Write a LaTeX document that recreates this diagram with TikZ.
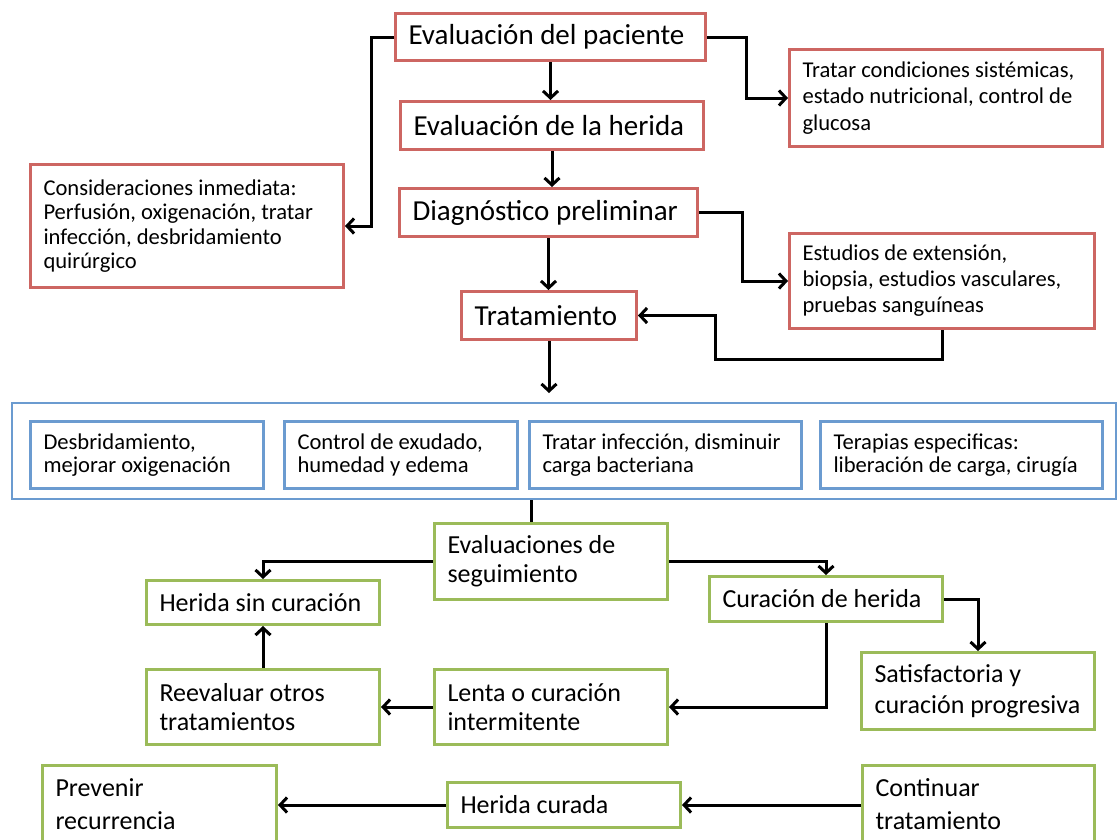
\documentclass[tikz,border=0pt]{standalone}
\usepackage{fontspec}
\setmainfont{Carlito}
\usetikzlibrary{arrows.meta}
\definecolor{rd}{RGB}{205,102,98}
\definecolor{bl}{RGB}{107,155,208}
\definecolor{gr}{RGB}{155,187,89}
\tikzset{
 box/.style={draw, line width=3pt, fill=white, anchor=north west, inner xsep=13pt, inner ysep=0pt, align=flush left, text=black},
 rbox/.style={box, draw=rd},
 bbox/.style={box, draw=bl},
 gbox/.style={box, draw=gr},
 arr/.style={line width=3pt, -{Straight Barb[length=7pt,width=15pt]}},
 ftitle/.style={font=\fontsize{29}{34}\selectfont},
 fsmall/.style={font=\fontsize{22.6}{#1}\selectfont},
 fgreen/.style={font=\fontsize{26}{#1}\selectfont},
}
\begin{document}
\begin{tikzpicture}[x=1pt,y=-1pt]
\useasboundingbox[fill=white] (0,0) rectangle (1119,839);
\clip (0,0) rectangle (1119,839);

% red boxes
\node[rbox, ftitle, minimum width=310pt, minimum height=47pt, text width=284pt] (pac) at (394,12) {Evaluación del paciente};
\node[rbox, ftitle, minimum width=303pt, minimum height=48pt, text width=277pt] (her) at (399,100) {Evaluación de la herida};
\node[rbox, fsmall=26.3, minimum width=313pt, minimum height=97pt, text width=287pt] (sis) at (788,48) {Tratar condiciones sistémicas,\\estado nutricional, control de\\glucosa};
\node[rbox, fsmall=24.6, minimum width=313pt, minimum height=123pt, text width=287pt] (con) at (29,163) {Consideraciones inmediata:\\Perfusión, oxigenación, tratar\\infección, desbridamiento\\quirúrgico};
\node[rbox, ftitle, minimum width=298pt, minimum height=48pt, text width=272pt] (dia) at (398,187) {Diagnóstico preliminar};
\node[rbox, fsmall=26, minimum width=305pt, minimum height=95pt, text width=279pt] (est) at (788,232) {Estudios de extensión,\\biopsia, estudios vasculares,\\pruebas sanguíneas};
\node[rbox, ftitle, minimum width=175pt, minimum height=48pt, text width=149pt] (tra) at (460,290) {Tratamiento};

% blue container and boxes
\node[draw=bl, line width=2pt, anchor=north west, minimum width=1104pt, minimum height=96pt, inner sep=0pt] (cont) at (11,402) {};
\node[bbox, fsmall=22.7, minimum width=233pt, minimum height=67pt, text width=207pt] (b1) at (29,420) {Desbridamiento,\\mejorar oxigenación};
\node[bbox, fsmall=22.7, minimum width=233pt, minimum height=67pt, text width=207pt] (b2) at (283,420) {Control de exudado,\\humedad y edema};
\node[bbox, fsmall=22.7, minimum width=272pt, minimum height=67pt, text width=246pt] (b3) at (528,420) {Tratar infección, disminuir\\carga bacteriana};
\node[bbox, fsmall=22.7, minimum width=282pt, minimum height=67pt, text width=256pt] (b4) at (819,420) {Terapias especificas:\\liberación de carga, cirugía};

% green boxes
\node[gbox, fgreen=29, minimum width=233pt, minimum height=76pt, text width=207pt] (seg) at (433,522) {Evaluaciones de\\seguimiento};
\node[gbox, fgreen=29, minimum width=233pt, minimum height=44pt, text width=207pt] (sin) at (145,579) {Herida sin curación};
\node[gbox, fgreen=29, minimum width=233pt, minimum height=45pt, text width=207pt] (cur) at (708,575) {Curación de herida};
\node[gbox, fgreen=31, minimum width=233pt, minimum height=77pt, text width=207pt] (sat) at (860,651) {Satisfactoria y\\curación progresiva};
\node[gbox, fgreen=29, minimum width=233pt, minimum height=75pt, text width=207pt] (ree) at (145,668) {Reevaluar otros\\tratamientos};
\node[gbox, fgreen=29, minimum width=233pt, minimum height=75pt, text width=207pt] (len) at (433,668) {Lenta o curación\\intermitente};
\node[gbox, fgreen=33, minimum width=234pt, minimum height=78pt, text width=208pt] (pre) at (41,764) {Prevenir\\recurrencia};
\node[gbox, fgreen=29, minimum width=233pt, minimum height=45pt, text width=207pt] (hcu) at (446,781) {Herida curada};
\node[gbox, fgreen=33, minimum width=232pt, minimum height=78pt, text width=206pt] (ctn) at (861,764) {Continuar\\tratamiento};

% connectors
\draw[arr] (pac.south) -- (pac.south |- her.north);
\draw[arr] (her.south) -- (her.south |- dia.north);
\draw[arr] (pac.west) -| ([xshift=26pt]con.east) -- (con.east);
\draw[arr] (pac.east) -| ([xshift=-42pt]sis.west) -- (sis.west);
\draw[arr] (dia.east) -| ([xshift=-46pt]est.west) -- (est.west);
\draw[arr] (dia.south) -- (dia.south |- tra.north);
\draw[arr] (est.south) -- ++(0,29) -| ([xshift=77pt]tra.east) -- (tra.east);
\coordinate (tend) at ([yshift=-52pt]tra.south);
\draw[arr] (tra.south) -- (tend);
\coordinate (j) at ([xshift=-19.5pt]seg.north);
\draw[line width=3pt] (j |- cont.south) -- (j);
\draw[arr] (seg.west) -| (sin.north);
\draw[arr] (seg.east) -| (cur.north);
\draw[arr] (cur.east) -| (sat.north);
\draw[arr] (cur.south) |- (len.east);
\draw[arr] (len.west) -- (ree.east);
\draw[arr] (ree.north) -- (sin.south);
\draw[arr] (ctn.west |- hcu.east) -- (hcu.east);
\draw[arr] (hcu.west) -- (hcu.west -| pre.east);
\end{tikzpicture}
\end{document}
